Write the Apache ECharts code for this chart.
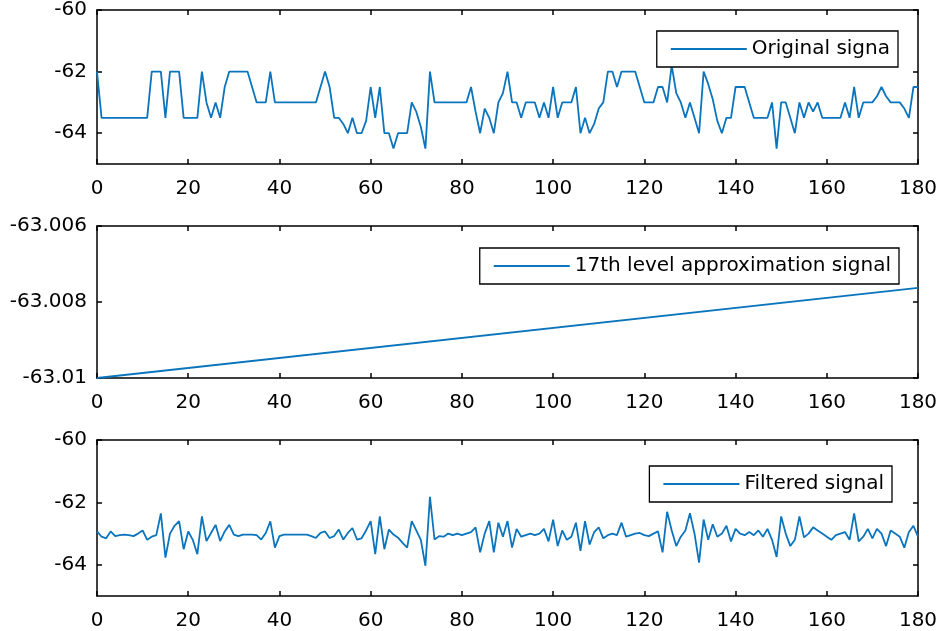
<!DOCTYPE html>
<html>
<head>
<meta charset="utf-8">
<title>Signal decomposition</title>
<script src="https://cdn.jsdelivr.net/npm/echarts@6/dist/echarts.min.js"></script>
<style>
  html,body{margin:0;padding:0;background:#fff;}
  #chart{width:944px;height:631px;}
</style>
</head>
<body>
<div id="chart"></div>
<script>
  // x ticks shared by all three panels
  let xTicks=[0,20,40,60,80,100,120,140,160,180];

  // top panel: raw signal, one value per sample 0..180
  let originalSignal=[
    -62,-63.5,-63.5,-63.5,-63.5,-63.5,-63.5,-63.5,-63.5,-63.5,
    -63.5,-63.5,-62,-62,-62,-63.5,-62,-62,-62,-63.5,
    -63.5,-63.5,-63.5,-62,-63,-63.5,-63,-63.5,-62.5,-62,
    -62,-62,-62,-62,-62.5,-63,-63,-63,-62,-63,
    -63,-63,-63,-63,-63,-63,-63,-63,-63,-62.5,
    -62,-62.5,-63.5,-63.5,-63.7,-64,-63.5,-64,-64,-63.6,
    -62.5,-63.5,-62.5,-64,-64,-64.5,-64,-64,-64,-63,
    -63.3,-63.8,-64.5,-62,-63,-63,-63,-63,-63,-63,
    -63,-63,-62.5,-63.3,-64,-63.2,-63.5,-64,-63,-62.7,
    -62,-63,-63,-63.5,-63,-63,-63,-63.5,-63,-63.5,
    -62.5,-63.5,-63,-63,-63,-62.5,-64,-63.5,-64,-63.7,
    -63.2,-63,-62,-62,-62.5,-62,-62,-62,-62,-62.5,
    -63,-63,-63,-62.5,-62.5,-63,-61.8,-62.7,-63,-63.5,
    -63,-63.5,-64,-62,-62.4,-62.9,-63.6,-64,-63.5,-63.5,
    -62.5,-62.5,-62.5,-63,-63.5,-63.5,-63.5,-63.5,-63,-64.5,
    -63,-63,-63.5,-64,-63,-63.5,-63,-63.3,-63,-63.5,
    -63.5,-63.5,-63.5,-63.5,-63,-63.5,-62.5,-63.5,-63,-63,
    -63,-62.8,-62.5,-62.8,-63,-63,-63,-63.2,-63.5,-62.5,
    -62.5
  ];

  // middle panel: approximation is a straight line, end points only
  let approxX=[0,180];
  let approxY=[-63.01,-63.00763];

  // bottom panel: filtered signal
  let filteredSignal=[
    -62.93,-63.1,-63.15,-62.93,-63.08,-63.05,-63.03,-63.05,-63.08,-63.0,
    -62.9,-63.2,-63.1,-63.05,-62.35,-63.77,-63.0,-62.75,-62.6,-63.5,
    -62.93,-63.2,-63.66,-62.45,-63.24,-62.98,-62.72,-63.24,-62.93,-62.72,
    -63.03,-63.08,-63.03,-63.03,-63.03,-63.05,-63.19,-62.98,-62.61,-63.45,
    -63.08,-63.03,-63.03,-63.03,-63.03,-63.03,-63.03,-63.08,-63.14,-62.98,
    -62.93,-63.14,-63.08,-62.87,-63.19,-62.98,-62.82,-63.19,-63.15,-62.9,
    -62.6,-63.66,-62.45,-63.5,-62.87,-63.03,-63.13,-63.3,-63.45,-62.6,
    -62.9,-63.2,-64.03,-61.82,-63.19,-63.08,-63.1,-63.0,-63.05,-63.0,
    -63.05,-63.0,-62.95,-62.8,-63.6,-63.0,-62.6,-63.6,-62.65,-63.1,
    -62.6,-63.45,-62.85,-63.1,-63.05,-63.0,-63.05,-63.0,-62.85,-63.25,
    -62.55,-63.4,-62.9,-63.2,-63.1,-62.65,-63.55,-62.6,-63.35,-62.95,
    -62.8,-63.15,-63.05,-63.0,-63.05,-62.65,-63.1,-63.05,-63.0,-62.98,
    -63.05,-63.08,-63.0,-62.93,-63.6,-62.3,-62.9,-63.4,-63.1,-62.9,
    -62.35,-63.0,-63.93,-62.55,-63.2,-62.7,-63.1,-63.0,-62.75,-63.25,
    -62.85,-63.0,-63.05,-62.95,-63.05,-62.9,-63.1,-62.85,-63.2,-63.75,
    -62.45,-63.0,-63.4,-63.2,-62.45,-63.12,-63.0,-62.8,-62.9,-63.0,
    -63.1,-63.2,-63.05,-63.0,-62.95,-63.2,-62.35,-63.25,-63.1,-62.85,
    -63.15,-62.85,-63.0,-63.4,-62.9,-63.0,-63.1,-63.45,-62.95,-62.75,
    -63.1
  ];

  // y ticks per panel
  let yTicksTop=[-64,-62,-60];
  let yTicksMid=[-63.01,-63.008,-63.006];
  let yTicksBottom=[-64,-62,-60];

  let names=['Original signa','17th level approximation signal','Filtered signal'];

  let font='DejaVu Sans';
  let lineColor='#0a74bd';

  let grids=[
    {left:97,right:26,top:9,height:155},
    {left:97,right:26,top:226,height:152},
    {left:97,right:26,top:440,height:157}
  ];
  let yRanges=[[-65,-60,yTicksTop],[-63.01,-63.006,yTicksMid],[-65,-60,yTicksBottom]];

  function fmtY(v){
    return String(parseFloat(v.toFixed(3)));
  }

  let xAxis=[],yAxis=[];
  grids.forEach(function(g,i){
    // bottom x axis with labels
    xAxis.push({
      type:'value',gridIndex:i,min:0,max:180,position:'bottom',
      axisLine:{show:true,onZero:false,lineStyle:{color:'#000',width:1.5}},
      axisTick:{show:true,inside:true,length:5,customValues:xTicks,lineStyle:{color:'#000',width:1.5}},
      axisLabel:{show:true,customValues:xTicks,margin:15,color:'#000',fontSize:20,fontFamily:font},
      splitLine:{show:false}
    });
    // top x axis, ticks only (box)
    xAxis.push({
      type:'value',gridIndex:i,min:0,max:180,position:'top',
      axisLine:{show:true,onZero:false,lineStyle:{color:'#000',width:1.5}},
      axisTick:{show:true,inside:true,length:5,customValues:xTicks,lineStyle:{color:'#000',width:1.5}},
      axisLabel:{show:false},
      splitLine:{show:false}
    });
    let r=yRanges[i];
    yAxis.push({
      type:'value',gridIndex:i,min:r[0],max:r[1],position:'left',
      axisLine:{show:true,onZero:false,lineStyle:{color:'#000',width:1.5}},
      axisTick:{show:true,inside:true,length:5,customValues:r[2],lineStyle:{color:'#000',width:1.5}},
      axisLabel:{show:true,customValues:r[2],margin:10,color:'#000',fontSize:20,fontFamily:font,formatter:fmtY},
      splitLine:{show:false}
    });
    yAxis.push({
      type:'value',gridIndex:i,min:r[0],max:r[1],position:'right',
      axisLine:{show:true,onZero:false,lineStyle:{color:'#000',width:1.5}},
      axisTick:{show:true,inside:true,length:5,customValues:r[2],lineStyle:{color:'#000',width:1.5}},
      axisLabel:{show:false},
      splitLine:{show:false}
    });
  });

  function legendAt(name,right,top){
    return {
      data:[name],right:right,top:top,
      icon:'rect',itemWidth:76,itemHeight:2,
      borderColor:'#000',borderWidth:1.3,backgroundColor:'#fff',
      padding:[8,8,8,14],
      textStyle:{color:'#000',fontSize:20,fontFamily:font},
      selectedMode:false
    };
  }

  let seriesStyle={type:'line',showSymbol:false,symbol:'none',animation:false,
    lineStyle:{color:lineColor,width:1.8},itemStyle:{color:lineColor}};

  let option={
    backgroundColor:'#fff',
    animation:false,
    grid:grids,
    xAxis:xAxis,
    yAxis:yAxis,
    legend:[
      legendAt(names[0],46,31),
      legendAt(names[1],45,248),
      legendAt(names[2],52,466)
    ],
    series:[
      Object.assign({},seriesStyle,{
        name:names[0],xAxisIndex:0,yAxisIndex:0,
        data:originalSignal.map(function(v,i){return [i,v];})
      }),
      Object.assign({},seriesStyle,{
        name:names[1],xAxisIndex:2,yAxisIndex:2,
        data:approxX.map(function(x,i){return [x,approxY[i]];})
      }),
      Object.assign({},seriesStyle,{
        name:names[2],xAxisIndex:4,yAxisIndex:4,
        data:filteredSignal.map(function(v,i){return [i,v];})
      })
    ]
  };

  let myChart=echarts.init(document.getElementById('chart'));
  myChart.setOption(option);
  window.addEventListener('resize',function(){
    myChart.resize();
  });
</script>
</body>
</html>
